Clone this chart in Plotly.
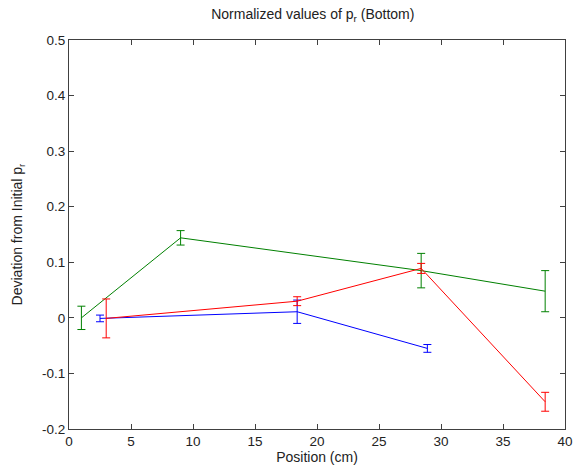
import plotly.graph_objects as go

blue_x = [2.5, 18.4, 28.9]
blue_y = [-0.001, 0.011, -0.055]
blue_err = [0.006, 0.021, 0.007]

green_x = [1.0, 9.0, 28.4, 38.4]
green_y = [0.0, 0.144, 0.085, 0.048]
green_err = [0.021, 0.013, 0.031, 0.037]

red_x = [3.0, 18.4, 28.4, 38.4]
red_y = [-0.001, 0.030, 0.089, -0.151]
red_err = [0.035, 0.008, 0.009, 0.017]

x_ticks = [0, 5, 10, 15, 20, 25, 30, 35, 40]
y_ticks = [-0.2, -0.1, 0, 0.1, 0.2, 0.3, 0.4, 0.5]
y_labels = ["-0.2", "-0.1", "0", "0.1", "0.2", "0.3", "0.4", "0.5"]

FONT = "Liberation Sans, Arial"
fig = go.Figure()
for xs, ys, es, col in [(blue_x, blue_y, blue_err, "#0000ff"),
                        (green_x, green_y, green_err, "#008000"),
                        (red_x, red_y, red_err, "#ff0000")]:
    fig.add_trace(go.Scatter(
        x=xs, y=ys, mode="lines",
        line=dict(color=col, width=1),
        error_y=dict(type="data", array=es, visible=True, color=col, thickness=1, width=4),
        showlegend=False))

axis_common = dict(showgrid=False, zeroline=False, showline=True, linecolor="#404040",
                   linewidth=1, mirror="ticks", ticks="inside", ticklen=5, tickcolor="#404040",
                   automargin=False,
                   tickfont=dict(family=FONT, size=13.5, color="#222"))

fig.update_layout(
    width=574, height=469,
    margin=dict(l=69, r=9, t=40, b=40, autoexpand=False),
    paper_bgcolor="white", plot_bgcolor="white",
    title=dict(text="Normalized values of p<sub>r</sub> (Bottom)", x=0.545, xanchor="center",
               y=0.97, yanchor="middle",
               font=dict(family=FONT, size=14, color="#222")),
    xaxis=dict(range=[0, 40], tickvals=x_ticks,
               title=dict(text="Position (cm)", standoff=3,
                          font=dict(family=FONT, size=14, color="#222")),
               **axis_common),
    yaxis=dict(range=[-0.2, 0.5], tickvals=y_ticks, ticktext=y_labels,
               title=dict(text="Deviation from Initial p<sub>r</sub>", standoff=16,
                          font=dict(family=FONT, size=14, color="#222")),
               **axis_common),
)

fig.write_html("out.html")
